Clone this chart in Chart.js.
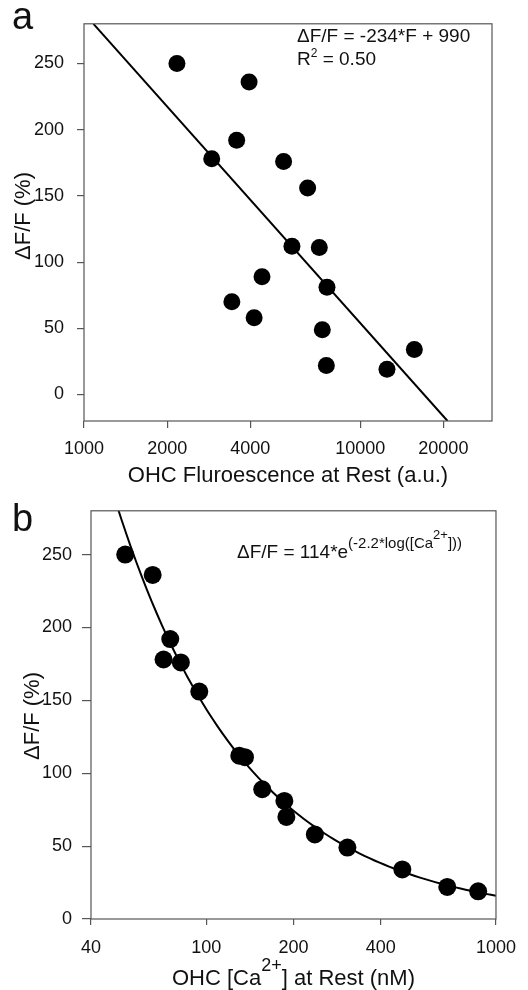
<!DOCTYPE html>
<html>
<head>
<meta charset="utf-8">
<script src="https://cdn.jsdelivr.net/npm/chart.js@4.4.1/dist/chart.umd.min.js"></script>
<style>
body { margin: 0; background: #fff; }
canvas { display: block; }
</style>
</head>
<body>
<canvas id="chartA" width="528" height="490"></canvas>
<canvas id="chartB" width="528" height="500"></canvas>
<script>
// shared dF/F values (%) for the 16 cells
const dff = [250, 236, 192, 178, 176, 156, 112, 111, 89, 81, 70, 58, 49, 34, 22, 19];
// panel a: resting fluorescence (a.u.)
const fluor = [2170, 3960, 3570, 2900, 5280, 6450, 5660, 7110, 4410, 7580, 3430, 4130, 7290, 15700, 7540, 12500];
// panel b: resting [Ca2+] (nM)
const calcium = [52.5, 65.3, 75.1, 71.2, 81.7, 94.6, 130, 136, 156, 186, 189, 237, 307, 475, 679, 868];

const yTicks = [0, 50, 100, 150, 200, 250];
const fluorTicks = [1000, 2000, 4000, 10000, 20000];
const calciumTicks = [40, 100, 200, 400, 1000];

// fits
const linSlope = -234, linIntercept = 990;   // dF/F = 990 - 234*log(F)
const powA = 11700, powK = 0.955;             // dF/F = A * Ca^-k

const FONT = "'Liberation Sans', Arial, sans-serif";
Chart.defaults.font.family = FONT;
Chart.defaults.color = '#111';

function pts(xs, ys) {
    return xs.map((x, i) => ({ x: x, y: ys[i] }));
}

function drawRich(ctx, x, y, parts, align) {
    let total = 0;
    parts.forEach(p => {
        ctx.font = p.size + 'px ' + FONT;
        total += ctx.measureText(p.t).width;
    });
    if (align === 'center') x -= total / 2;
    ctx.textAlign = 'left';
    ctx.textBaseline = 'alphabetic';
    parts.forEach(p => {
        ctx.font = p.size + 'px ' + FONT;
        ctx.fillText(p.t, x, y - (p.up || 0));
        x += ctx.measureText(p.t).width;
    });
}

function yTitle(ctx, text, cx, cy) {
    ctx.save();
    ctx.translate(cx, cy);
    ctx.rotate(-Math.PI / 2);
    ctx.font = '22px ' + FONT;
    ctx.textAlign = 'center';
    ctx.textBaseline = 'middle';
    ctx.fillText(text, 0, 0);
    ctx.restore();
}

const frame = {
    id: 'frame',
    afterDraw(chart, args, opts) {
        const ctx = chart.ctx, a = chart.chartArea;
        ctx.save();
        ctx.strokeStyle = '#555';
        ctx.lineWidth = 1.2;
        ctx.strokeRect(a.left, a.top, a.right - a.left, a.bottom - a.top);
        ctx.fillStyle = '#111';
        opts.draw(ctx, a);
        ctx.restore();
    }
};

function tickList(list) {
    return s => { s.ticks = list.map(v => ({ value: v })); };
}

function axes(xMin, xMax, xList, yMin, yMax, yWidth, xHeight, yPad, xPad, xTick, yTick) {
    return {
        x: {
            type: 'logarithmic', min: xMin, max: xMax,
            afterBuildTicks: tickList(xList),
            afterFit: s => { s.height = xHeight; },
            ticks: { callback: v => String(v), font: { size: 18 }, padding: xPad, maxRotation: 0, autoSkip: false, color: '#111' },
            grid: { drawOnChartArea: false, tickLength: xTick, color: '#555', lineWidth: 1.2 },
            border: { display: false }
        },
        y: {
            min: yMin, max: yMax,
            afterBuildTicks: tickList(yTicks),
            afterFit: s => { s.width = yWidth; },
            ticks: { font: { size: 18 }, padding: yPad, color: '#111' },
            grid: { drawOnChartArea: false, tickLength: yTick, color: '#555', lineWidth: 1.2 },
            border: { display: false }
        }
    };
}

// panel a
const aMin = -20, aMax = 280;
const lineA = [aMax, aMin].map(y => ({ x: Math.pow(10, (y - linIntercept) / linSlope), y: y }));

new Chart(document.getElementById('chartA'), {
    type: 'scatter',
    data: {
        datasets: [{
            data: pts(fluor, dff),
            backgroundColor: '#000',
            borderWidth: 0,
            pointRadius: 8.5
        }, {
            data: lineA,
            showLine: true,
            borderColor: '#000',
            borderWidth: 2,
            pointRadius: 0
        }]
    },
    options: {
        responsive: false,
        animation: false,
        devicePixelRatio: 1,
        layout: { padding: { left: 0, right: 36, top: 9, bottom: 0 } },
        scales: axes(1000, 30000, fluorTicks, aMin, aMax, 84, 69, 13, 10, 7, 7),
        plugins: {
            legend: { display: false },
            tooltip: { enabled: false },
            frame: {
                draw(ctx, a) {
                    drawRich(ctx, 12, 29, [{ t: 'a', size: 38 }]);
                    drawRich(ctx, 297, 42, [{ t: '\u0394F/F = -234*F + 990', size: 19 }]);
                    drawRich(ctx, 297, 65, [{ t: 'R', size: 19 }, { t: '2', size: 12, up: 8 }, { t: ' = 0.50', size: 19 }]);
                    drawRich(ctx, (a.left + a.right) / 2, 482, [{ t: 'OHC Fluroescence at Rest (a.u.)', size: 22 }], 'center');
                    yTitle(ctx, '\u0394F/F (%)', 24, 216);
                }
            }
        }
    },
    plugins: [frame]
});

// panel b
const bMin = 0, bMax = 280;
const curveB = [];
for (let i = 0; i <= 80; i++) {
    const x = Math.pow(10, Math.log10(40) + i * (Math.log10(1000) - Math.log10(40)) / 80);
    curveB.push({ x: x, y: powA * Math.pow(x, -powK) });
}

new Chart(document.getElementById('chartB'), {
    type: 'scatter',
    data: {
        datasets: [{
            data: pts(calcium, dff),
            backgroundColor: '#000',
            borderWidth: 0,
            pointRadius: 9
        }, {
            data: curveB,
            showLine: true,
            borderColor: '#000',
            borderWidth: 2,
            pointRadius: 0,
            tension: 0
        }]
    },
    options: {
        responsive: false,
        animation: false,
        devicePixelRatio: 1,
        layout: { padding: { left: 0, right: 29, top: 17, bottom: 0 } },
        scales: axes(40, 1000, calciumTicks, bMin, bMax, 91, 71, 10, 12, 6, 9),
        plugins: {
            legend: { display: false },
            tooltip: { enabled: false },
            frame: {
                draw(ctx, a) {
                    drawRich(ctx, 12, 41, [{ t: 'b', size: 38 }]);
                    drawRich(ctx, 237, 68, [
                        { t: '\u0394F/F = 114*e', size: 19 },
                        { t: '(-2.2*log([Ca', size: 15, up: 10 },
                        { t: '2+', size: 13, up: 19 },
                        { t: ']))', size: 15, up: 10 }
                    ]);
                    drawRich(ctx, (a.left + a.right) / 2, 495, [
                        { t: 'OHC [Ca', size: 22 },
                        { t: '2+', size: 18, up: 14 },
                        { t: '] at Rest (nM)', size: 22 }
                    ], 'center');
                    yTitle(ctx, '\u0394F/F (%)', 33, 226);
                }
            }
        }
    },
    plugins: [frame]
});
</script>
</body>
</html>
